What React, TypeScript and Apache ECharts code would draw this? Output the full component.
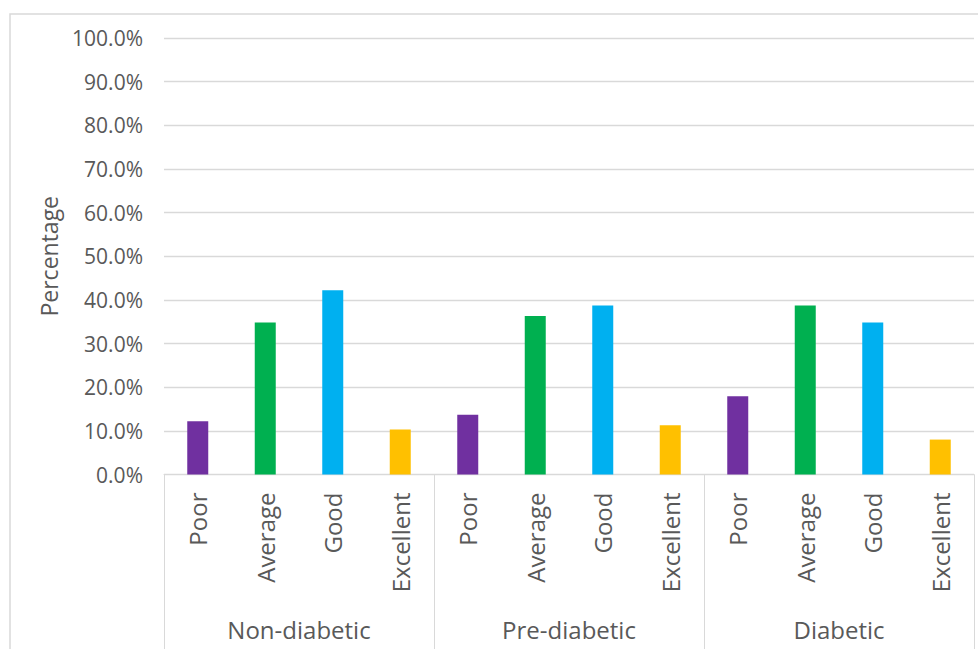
import React, { useEffect, useRef } from "react";
import * as echarts from "echarts";

const groups = ["Non-diabetic", "Pre-diabetic", "Diabetic"];
const ratings = ["Poor", "Average", "Good", "Excellent"];
const ratingColors = ["#7030A0", "#00B050", "#00B0F0", "#FFC000"];
const nonDiabetic = [12.2, 34.8, 42.2, 10.3];
const preDiabetic = [13.7, 36.3, 38.7, 11.3];
const diabetic = [17.9, 38.7, 34.8, 8.0];
const yTicks = { min: 0, max: 100, interval: 10 };

export default function App() {
  const ref = useRef<HTMLDivElement>(null);
  useEffect(() => {
    if (!ref.current) return;
    const chart = echarts.init(ref.current, null, { renderer: "svg" });
    const groupValues = [nonDiabetic, preDiabetic, diabetic];
    const cats: string[] = [];
    const data: any[] = [];
    groupValues.forEach((vals) => {
      vals.forEach((v, i) => {
        cats.push(ratings[i]);
        data.push({ value: v, itemStyle: { color: ratingColors[i] } });
      });
    });
    const font = "'Open Sans', sans-serif";
    const textColor = "#595959";
    chart.setOption({
      animation: false,
      graphic: [
        {
          type: "rect",
          shape: { x: 10, y: 14, width: 1000, height: 700 },
          style: { fill: "none", stroke: "#D9D9D9", lineWidth: 1.5 },
          silent: true,
        },
      ],
      grid: { left: 164, right: 4, top: 38, bottom: 174.5, containLabel: false },
      xAxis: [
        {
          type: "category",
          data: cats,
          position: "bottom",
          axisLine: { show: true, lineStyle: { color: "#D9D9D9", width: 1 } },
          axisTick: { show: false },
          axisLabel: {
            rotate: 90,
            margin: 18,
            fontFamily: font,
            fontSize: 24,
            color: textColor,
            interval: 0,
          },
        },
        {
          type: "category",
          data: groups,
          position: "bottom",
          axisLine: { show: false },
          axisTick: {
            show: true,
            length: 180,
            lineStyle: { color: "#D9D9D9", width: 1 },
          },
          axisLabel: {
            margin: 143,
            fontFamily: font,
            fontSize: 24,
            color: textColor,
            interval: 0,
          },
        },
      ],
      yAxis: {
        type: "value",
        min: yTicks.min,
        max: yTicks.max,
        interval: yTicks.interval,
        name: "Percentage",
        nameLocation: "middle",
        nameGap: 104,
        nameTextStyle: { fontFamily: font, fontSize: 23, color: textColor },
        axisLine: { show: false },
        axisTick: { show: false },
        splitLine: { lineStyle: { color: "#D9D9D9", width: 1.3 } },
        axisLabel: {
          margin: 21,
          fontFamily: font,
          fontSize: 21,
          color: textColor,
          formatter: (v: number) => v.toFixed(1) + "%",
        },
      },
      series: [
        {
          type: "bar",
          xAxisIndex: 0,
          data,
          barWidth: 21,
        },
      ],
    });
    return () => chart.dispose();
  }, []);
  return (
    <div
      ref={ref}
      style={{ position: "fixed", left: 0, top: 0, width: 978, height: 649, background: "#fff" }}
    />
  );
}
